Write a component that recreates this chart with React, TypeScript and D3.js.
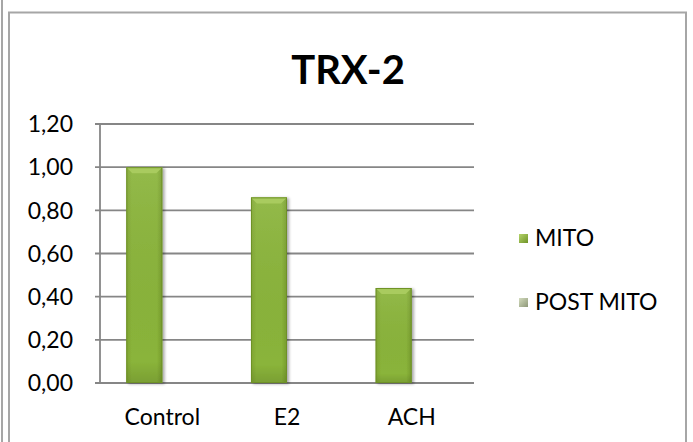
import React from "react";
import * as d3 from "d3";

const categories = ["Control", "E2", "ACH"];
const seriesNames = ["MITO", "POST MITO"];
const mitoValues = [1.0, 0.86, 0.44];
const postMitoValues = [0, 0, 0];
const yTicks = [0, 0.2, 0.4, 0.6, 0.8, 1.0, 1.2];
const title = "TRX-2";

const W = 693;
const H = 442;
const FONT = "Lato, 'Open Sans', sans-serif";
const FS = 23;

export default function App() {
  const plot = { left: 100, right: 474, top: 124, bottom: 383 };
  const x = d3.scaleBand<string>().domain(categories).range([plot.left, plot.right]);
  const inner = d3
    .scaleBand<string>()
    .domain(seriesNames)
    .range([0, x.bandwidth()])
    .paddingOuter(0.73)
    .paddingInner(0);
  const y = d3.scaleLinear().domain([0, 1.2]).range([plot.bottom, plot.top]);
  const fmt = (v: number) => v.toFixed(2).replace(".", ",");
  const bw = inner.bandwidth();

  return (
    <svg
      width={W}
      height={H}
      style={{ position: "absolute", left: 0, top: 0, background: "#fff" }}
    >
      <defs>
        <linearGradient id="gBar" x1="0" y1="0" x2="1" y2="0">
          <stop offset="0" stopColor="#7FA431" />
          <stop offset="0.15" stopColor="#8AB43A" />
          <stop offset="0.85" stopColor="#8AB43A" />
          <stop offset="1" stopColor="#769B2C" />
        </linearGradient>
        <linearGradient id="gBarV" x1="0" y1="0" x2="0" y2="1">
          <stop offset="0" stopColor="#ffffff" stopOpacity="0.08" />
          <stop offset="0.9" stopColor="#000000" stopOpacity="0" />
          <stop offset="1" stopColor="#000000" stopOpacity="0.12" />
        </linearGradient>
        <linearGradient id="gLeg1" x1="0" y1="0" x2="1" y2="1">
          <stop offset="0" stopColor="#B5D46A" />
          <stop offset="1" stopColor="#6F9328" />
        </linearGradient>
        <linearGradient id="gLeg2" x1="0" y1="0" x2="1" y2="1">
          <stop offset="0" stopColor="#D3DBBE" />
          <stop offset="1" stopColor="#8E9878" />
        </linearGradient>
        <filter id="shadow" x="-20%" y="-5%" width="150%" height="115%">
          <feGaussianBlur in="SourceAlpha" stdDeviation="1.5" />
          <feOffset dx="1.5" dy="1" result="b" />
          <feComponentTransfer>
            <feFuncA type="linear" slope="0.35" />
          </feComponentTransfer>
          <feMerge>
            <feMergeNode />
            <feMergeNode in="SourceGraphic" />
          </feMerge>
        </filter>
      </defs>

      {/* outer lines */}
      <line x1={2} y1={0} x2={2} y2={H} stroke="#A6A6A6" strokeWidth={2} />
      <path
        d={`M9,${H} V12.5 H686 V${H}`}
        fill="none"
        stroke="#A6A6A6"
        strokeWidth={2}
      />

      {/* title */}
      <text
        x={348}
        y={84}
        textAnchor="middle"
        fontFamily={FONT}
        fontWeight={700}
        fontSize={40}
        fill="#000"
      >
        {title}
      </text>

      {/* gridlines */}
      {yTicks.map((t) => (
        <line
          key={"g" + t}
          x1={plot.left - 5}
          x2={plot.right}
          y1={y(t)}
          y2={y(t)}
          stroke="#868686"
          strokeWidth={1.8}
        />
      ))}
      <line
        x1={plot.left}
        x2={plot.left}
        y1={plot.top}
        y2={plot.bottom}
        stroke="#868686"
        strokeWidth={1.8}
      />

      {/* y tick labels */}
      {yTicks.map((t) => (
        <text
          key={"t" + t}
          x={73}
          y={y(t)}
          dy="0.36em"
          textAnchor="end"
          fontFamily={FONT}
          fontSize={FS}
          fill="#000"
        >
          {fmt(t)}
        </text>
      ))}

      {/* bars */}
      {categories.map((c, i) => {
        const bx = (x(c) ?? 0) + (inner("MITO") ?? 0);
        const top = y(mitoValues[i]);
        const h = plot.bottom - top;
        const bev = 6;
        return (
          <g key={c} filter="url(#shadow)">
            <rect x={bx} y={top} width={bw} height={h} fill="url(#gBar)" />
            <rect x={bx} y={top} width={bw} height={h} fill="url(#gBarV)" />
            <path
              d={`M${bx},${top} H${bx + bw} L${bx + bw - bev},${top + bev} H${bx + bev} Z`}
              fill="#A9CB5E"
            />
            <rect
              x={bx + 0.5}
              y={top + 0.5}
              width={bw - 1}
              height={h - 1}
              fill="none"
              stroke="#6E9127"
              strokeWidth={1}
            />
          </g>
        );
      })}
      {categories.map((c, i) => {
        const bx = (x(c) ?? 0) + (inner("POST MITO") ?? 0);
        const top = y(postMitoValues[i]);
        return (
          <rect
            key={"p" + c}
            x={bx}
            y={top}
            width={bw}
            height={plot.bottom - top}
            fill="url(#gLeg2)"
          />
        );
      })}

      {/* x labels */}
      {categories.map((c) => (
        <text
          key={"x" + c}
          x={(x(c) ?? 0) + x.bandwidth() / 2}
          y={417}
          dy="0.36em"
          textAnchor="middle"
          fontFamily={FONT}
          fontSize={FS}
          fill="#000"
        >
          {c}
        </text>
      ))}

      {/* legend */}
      {seriesNames.map((s, i) => {
        const cy = 238 + i * 64;
        return (
          <g key={s}>
            <rect
              x={519}
              y={cy - 4}
              width={9}
              height={9}
              fill={i === 0 ? "url(#gLeg1)" : "url(#gLeg2)"}
            />
            <text
              x={535}
              y={cy}
              dy="0.36em"
              fontFamily={FONT}
              fontSize={FS}
              fill="#000"
            >
              {s}
            </text>
          </g>
        );
      })}
    </svg>
  );
}
